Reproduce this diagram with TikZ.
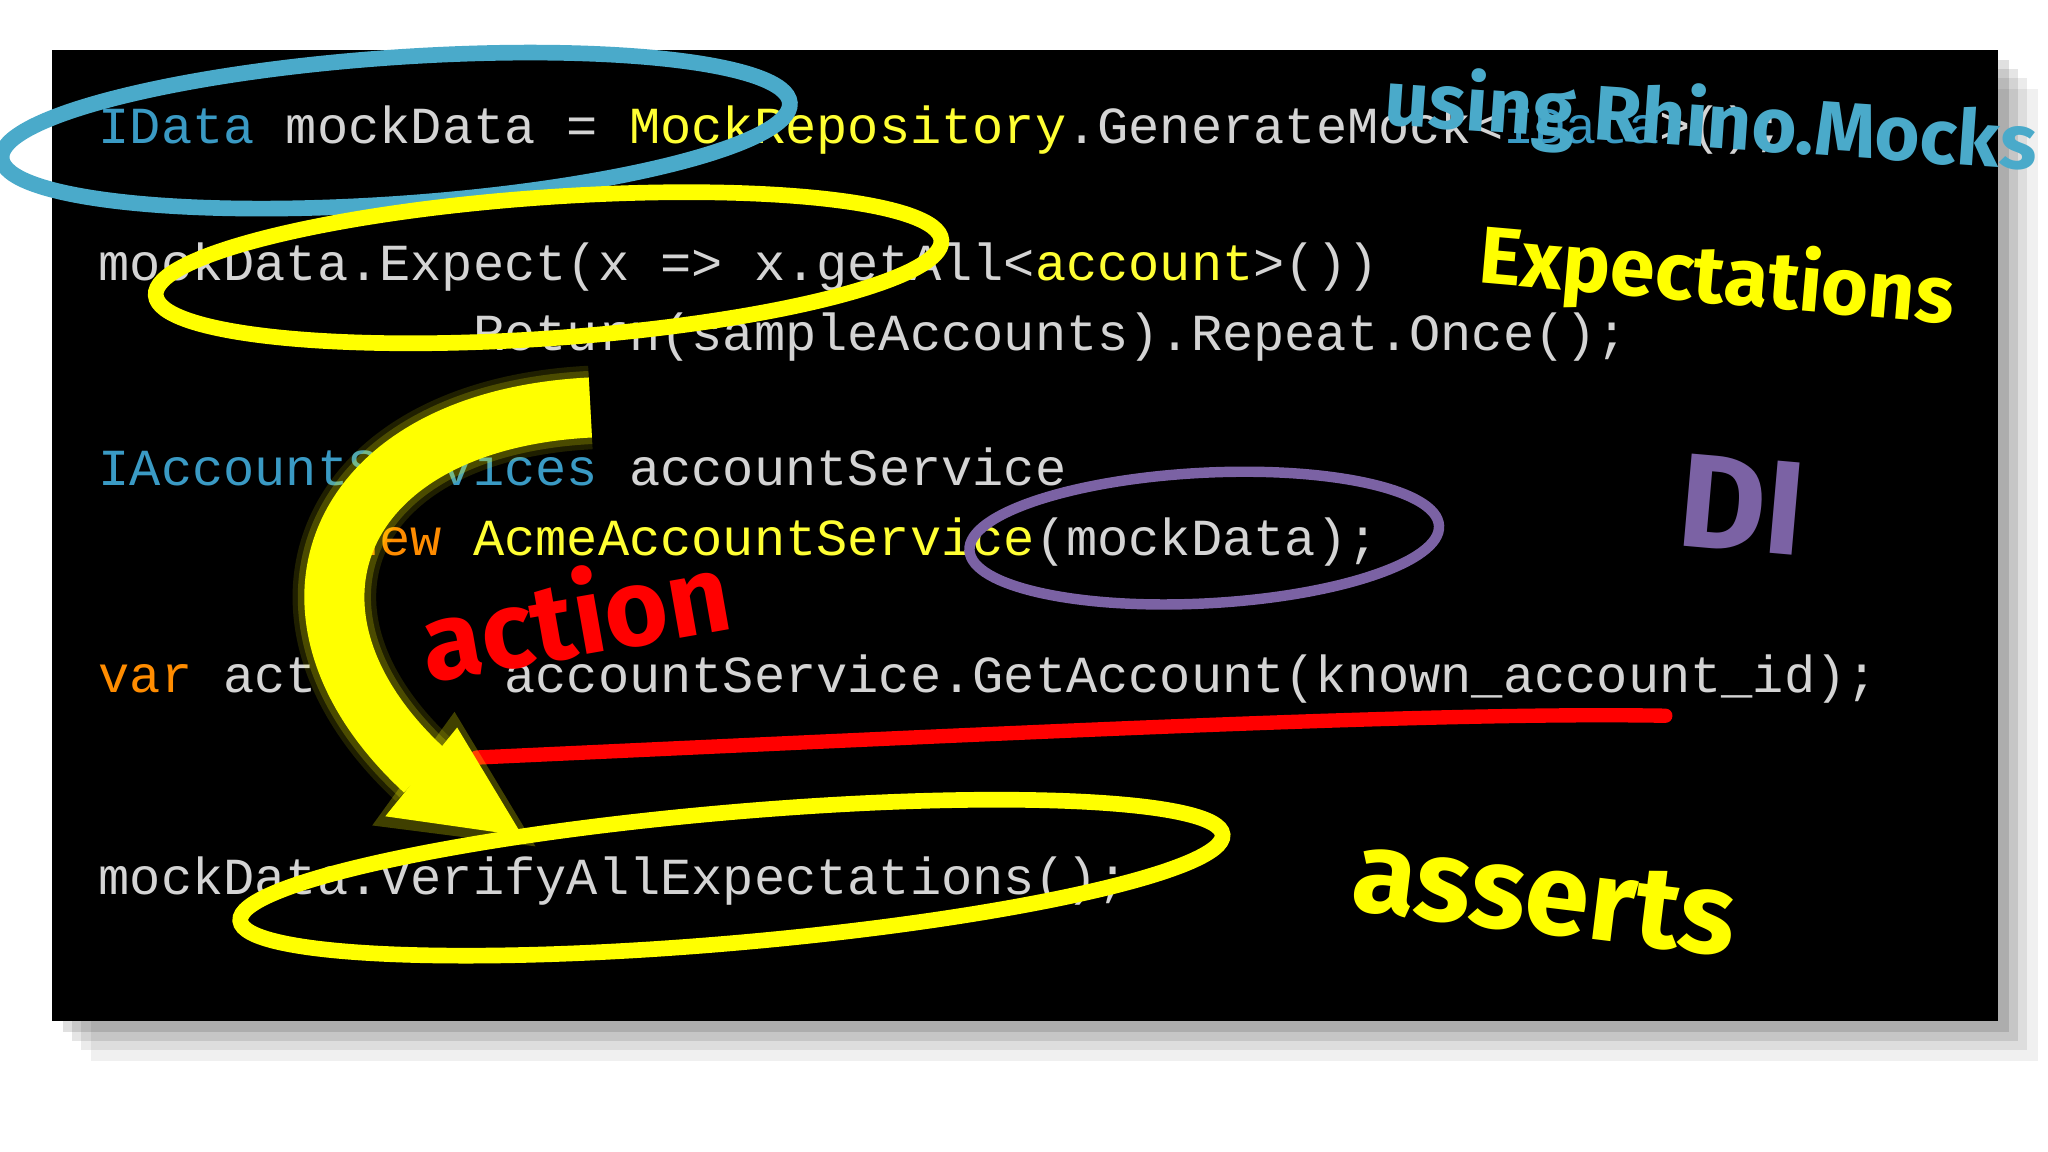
\documentclass[tikz,border=0pt]{standalone}
\usepackage{fontspec}
\setmainfont{Fira Sans}
\newfontfamily\codefam{Liberation Mono}
\newfontfamily\handfam{Fira Sans Bold}
\usetikzlibrary{shapes.geometric}
\definecolor{cgrey}{HTML}{D4D4D4}
\definecolor{cblue}{HTML}{3A9AC4}
\definecolor{cyel}{HTML}{FFFF33}
\definecolor{corange}{HTML}{FF8C00}
\definecolor{mblue}{HTML}{4AAACA}
\definecolor{mpurple}{HTML}{7B62A4}
\definecolor{myel}{HTML}{FFFF00}
\definecolor{mred}{HTML}{FF0000}
\def\u{0.01306cm}
\newcommand\cl[4]{\node[codetxt, text=#3] at ({75+23.9*#1},#2) {#4};}
\tikzset{
  codetxt/.style={anchor=base west, inner sep=0, font=\codefam\fontsize{14.8}{16}\selectfont},
  ring/.style={ellipse, draw, inner sep=0, line width=12*\u},
  hand/.style={inner sep=0, font=\handfam\fontsize{#1}{#1}\selectfont},
}
\begin{document}
\begin{tikzpicture}
\useasboundingbox (0,0) rectangle (20.48,11.52);
\fill[white] (0,0) rectangle (20.48,11.52);
\begin{scope}[shift={(0cm,11.52cm)}, x=\u, y=-\u]
% shadow
\foreach \d/\o in {30/0.06,22/0.08,15/0.1,8/0.12}{
  \fill[black, opacity=\o] (40+\d,38+\d) rectangle (1530+\d,782+\d);}
\fill[black] (40,38) rectangle (1530,782);
% code
\cl{0}{110}{cblue}{IData}
\cl{6}{110}{cgrey}{mockData =}
\cl{17}{110}{cyel}{MockRepository}
\cl{31}{110}{cgrey}{.GenerateMock<}
\cl{45}{110}{cblue}{IData}
\cl{50}{110}{cgrey}{>();}
\cl{0}{215}{cgrey}{mockData.Expect(x => x.getAll<}
\cl{30}{215}{cyel}{account}
\cl{37}{215}{cgrey}{>())}
\cl{12}{268}{cgrey}{Return(sampleAccounts).Repeat.Once();}
\cl{0}{372}{cblue}{IAccountServices}
\cl{17}{372}{cgrey}{accountService}
\cl{8}{425}{corange}{new}
\cl{12}{425}{cyel}{AcmeAccountService}
\cl{30}{425}{cgrey}{(mockData);}
\cl{0}{530}{corange}{var}
\cl{4}{530}{cgrey}{act}
\cl{8}{530}{cgrey}{=}
\cl{13}{530}{cgrey}{accountService.GetAccount(known\_account\_id);}
\cl{0}{685}{cgrey}{mockData.VerifyAllExpectations();}
% rings
\node (r1) [ring, draw=mblue, minimum width=605*\u, minimum height=112*\u, rotate=4] at (303,100) {};
\node (r2) [ring, draw=myel, minimum width=603*\u, minimum height=108*\u, rotate=4] at (420,205) {};
\node (r3) [ring, draw=mpurple, line width=8*\u, minimum width=360*\u, minimum height=100*\u, rotate=3] at (922,412) {};
\node (r4) [ring, draw=myel, minimum width=755*\u, minimum height=100*\u, rotate=5] at (560,672) {};
% red underline
\draw[mred, line width=11*\u, line cap=round] (365,580) .. controls (800,560) and (1100,545) .. (1275,548);
% yellow arrow with glow
\foreach \w/\o in {64/0.12,56/0.2}{
  \draw[myel, opacity=\o, line width=\w*\u] (452,312) .. controls (255,322) and (195,470) .. (325,590);}
\draw[myel, line width=46*\u] (452,312) .. controls (255,322) and (195,470) .. (325,590);
\fill[myel, opacity=0.25] (348,545) -- (285,632) -- (410,648) -- cycle;
\fill[myel] (350,557) -- (295,625) -- (400,640) -- cycle;
% hand labels
\node (t1) [hand=22, text=mblue, anchor=west, rotate=-4] at (1060,78) {using Rhino.Mocks};
\node (t2) [hand=23, text=myel, anchor=west, rotate=-5] at (1132,198) {Expectations};
\node (t3) [hand=38, text=mpurple, anchor=west, rotate=-5] at (1285,382) {DI};
\node (t4) [hand=31, text=mred, anchor=west, rotate=10] at (322,490) {action};
\node (t5) [hand=33, text=myel, anchor=west, rotate=-7] at (1036,668) {asserts};
\end{scope}
\end{tikzpicture}
\end{document}
